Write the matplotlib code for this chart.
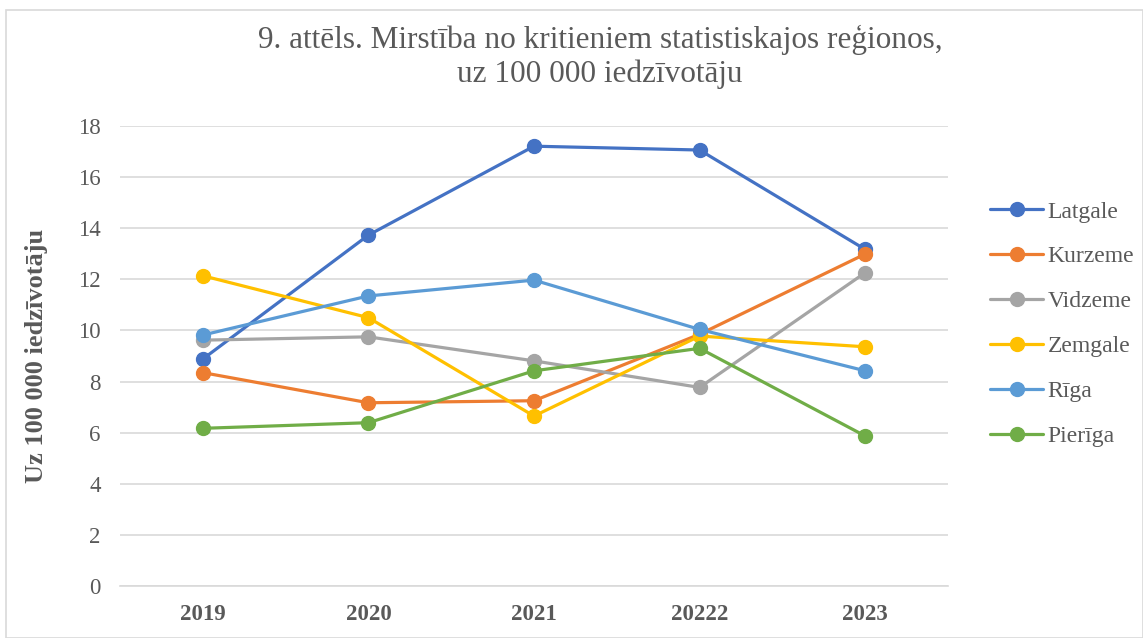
import matplotlib.pyplot as plt
from matplotlib.patches import Rectangle

years = ['2019', '2020', '2021', '20222', '2023']
regions = ['Latgale', 'Kurzeme', 'Vidzeme', 'Zemgale', 'Rīga', 'Pierīga']
latgale = [8.88, 13.73, 17.21, 17.06, 13.17]
kurzeme = [8.35, 7.17, 7.25, 9.85, 12.99]
vidzeme = [9.62, 9.75, 8.81, 7.77, 12.26]
zemgale = [12.14, 10.50, 6.65, 9.78, 9.36]
riga = [9.82, 11.35, 11.97, 10.04, 8.42]
pieriga = [6.17, 6.39, 8.42, 9.30, 5.87]
colors = ['#4472C4', '#ED7D31', '#A5A5A5', '#FFC000', '#5B9BD5', '#70AD47']

plt.rcParams['font.family'] = ['Liberation Serif', 'DejaVu Serif']
text_col = '#595959'

fig = plt.figure(figsize=(11.43, 6.38), dpi=100)
ax = fig.add_axes([120 / 1143, 1 - 586 / 638, (948 - 120) / 1143, 460 / 638])

# border around the whole chart
fig.patches.append(Rectangle((6 / 1143, 0), 1 - 6 / 1143, 1 - 10 / 638,
                             transform=fig.transFigure, fill=False,
                             edgecolor='#D9D9D9', lw=1.2))

x = range(len(years))
for name, vals, c in zip(regions, [latgale, kurzeme, vidzeme, zemgale, riga, pieriga], colors):
    ax.plot(x, vals, color=c, lw=2.3, marker='o', markersize=10, label=name,
            solid_capstyle='round')

ax.set_xlim(-0.5, len(years) - 0.5)
ax.set_ylim(0, 18)
ax.set_yticks(range(0, 19, 2))
ax.set_xticks(list(x))
ax.set_xticklabels(years, fontweight='bold')
ax.tick_params(axis='both', length=0, labelsize=16.5, colors=text_col)
ax.tick_params(axis='x', pad=13)
ax.tick_params(axis='y', pad=14)
ax.grid(True, axis='y', color='#D9D9D9', lw=1.2)
ax.set_axisbelow(True)
for s in ['top', 'right', 'left']:
    ax.spines[s].set_visible(False)
ax.spines['bottom'].set_color('#D9D9D9')
ax.spines['bottom'].set_linewidth(1.2)

ax.set_ylabel('Uz 100 000 iedzīvotāju', fontsize=19, fontweight='bold', color=text_col)
ax.yaxis.set_label_coords(-72 / 828, 0.5)

fig.text(0.525, 1 - 57 / 638, '9. attēls. Mirstība no kritieniem statistiskajos reģionos,\nuz 100 000 iedzīvotāju',
         ha='center', va='center', fontsize=22.5, color=text_col, linespacing=1.22)

leg = fig.legend(loc='upper left', bbox_to_anchor=(990 / 1143, 1 - 201 / 638),
                 frameon=False, fontsize=17, labelspacing=0.99, handlelength=2.25,
                 handletextpad=0.2, borderaxespad=0, borderpad=0)
for t in leg.get_texts():
    t.set_color(text_col)

fig.savefig('out.png', dpi=100)
